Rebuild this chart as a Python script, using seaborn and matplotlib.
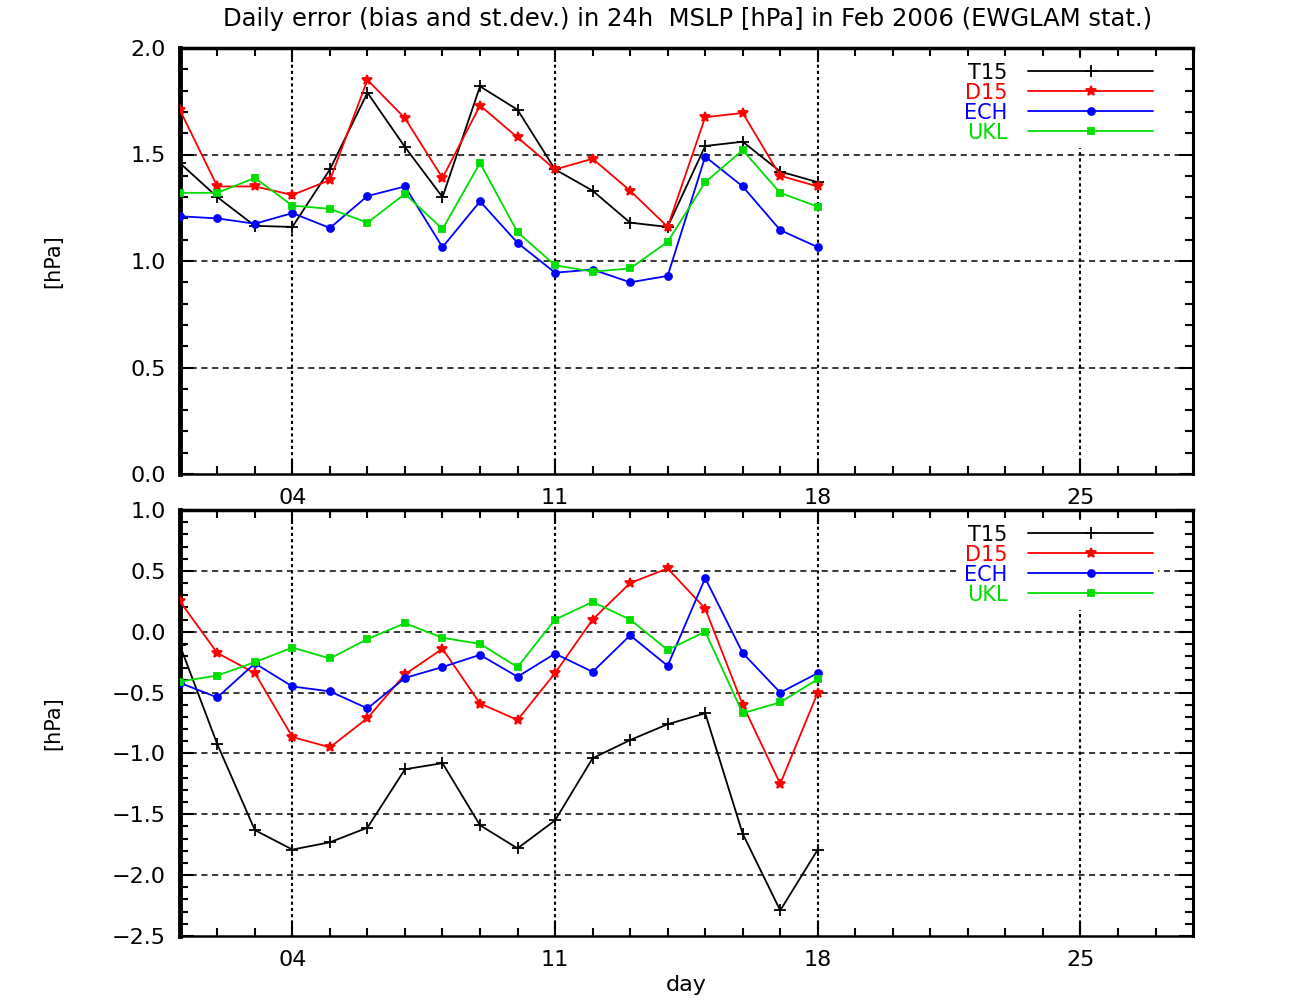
import numpy as np
import pandas as pd
import seaborn as sns
import matplotlib
matplotlib.use("Agg")
import matplotlib.pyplot as plt
from matplotlib.ticker import MultipleLocator, FixedLocator, FuncFormatter

days = list(range(1, 19))

# st.dev. (top panel)
std_t15 = [1.46, 1.30, 1.165, 1.16, 1.43, 1.79, 1.535, 1.30, 1.82, 1.71, 1.43, 1.33, 1.18, 1.16, 1.54, 1.56, 1.42, 1.37]
std_d15 = [1.71, 1.35, 1.35, 1.31, 1.38, 1.85, 1.67, 1.39, 1.73, 1.58, 1.43, 1.48, 1.33, 1.16, 1.675, 1.695, 1.40, 1.35]
std_ech = [1.21, 1.20, 1.175, 1.225, 1.155, 1.305, 1.35, 1.065, 1.28, 1.085, 0.945, 0.96, 0.90, 0.93, 1.49, 1.35, 1.145, 1.065]
std_ukl = [1.32, 1.32, 1.39, 1.26, 1.245, 1.18, 1.315, 1.15, 1.46, 1.135, 0.98, 0.95, 0.965, 1.09, 1.37, 1.52, 1.32, 1.255]

# bias (bottom panel)
bias_t15 = [-0.11, -0.925, -1.63, -1.79, -1.73, -1.61, -1.13, -1.08, -1.59, -1.78, -1.55, -1.04, -0.89, -0.76, -0.67, -1.66, -2.29, -1.79]
bias_d15 = [0.25, -0.175, -0.34, -0.865, -0.95, -0.71, -0.35, -0.14, -0.59, -0.725, -0.34, 0.10, 0.40, 0.52, 0.19, -0.60, -1.25, -0.50]
bias_ech = [-0.42, -0.54, -0.26, -0.45, -0.49, -0.63, -0.38, -0.29, -0.19, -0.37, -0.18, -0.33, -0.03, -0.28, 0.44, -0.175, -0.50, -0.34]
bias_ukl = [-0.41, -0.36, -0.25, -0.13, -0.22, -0.06, 0.07, -0.05, -0.10, -0.29, 0.10, 0.245, 0.10, -0.15, 0.00, -0.67, -0.58, -0.39]

models = ["T15", "D15", "ECH", "UKL"]
colors = {"T15": "#000000", "D15": "#ff0000", "ECH": "#0000ff", "UKL": "#00dd00"}
markers = {"T15": "+", "D15": "*", "ECH": "o", "UKL": "s"}
msizes = {"T15": 9, "D15": 7, "ECH": 5, "UKL": 5}

std_df = pd.DataFrame({"day": days * 4, "model": np.repeat(models, 18),
                       "value": std_t15 + std_d15 + std_ech + std_ukl})
bias_df = pd.DataFrame({"day": days * 4, "model": np.repeat(models, 18),
                        "value": bias_t15 + bias_d15 + bias_ech + bias_ukl})

sns.set_style("white")
plt.rcParams['font.family'] = ['DejaVu Sans']
for k in ["text.color", "axes.labelcolor", "xtick.color", "ytick.color"]:
    plt.rcParams[k] = "black"

fig = plt.figure(figsize=(13.03, 10), dpi=100)
ax1 = fig.add_axes([0.138, 0.526, 0.7776, 0.426])
ax2 = fig.add_axes([0.138, 0.064, 0.7776, 0.426])


def draw(ax, df, ylim):
    for m in models:
        d = df[df["model"] == m]
        sns.lineplot(data=d, x="day", y="value", ax=ax, color=colors[m],
                     marker=markers[m], markersize=msizes[m], linewidth=1.3,
                     markeredgecolor=colors[m], markeredgewidth=1.3,
                     label=m, zorder=3)
    ax.set_xlim(1, 28)
    ax.set_ylim(*ylim)
    ax.xaxis.set_major_locator(FixedLocator([4, 11, 18, 25]))
    ax.xaxis.set_minor_locator(MultipleLocator(1))
    ax.yaxis.set_major_locator(MultipleLocator(0.5))
    ax.yaxis.set_minor_locator(MultipleLocator(0.1))
    ax.set_xticklabels(["04", "11", "18", "25"])
    ax.yaxis.set_major_formatter(FuncFormatter(lambda v, p: f"{v:.1f}".replace("-", "\u2212")))
    ax.tick_params(which="both", direction="in", top=True, right=True,
                   bottom=True, left=True, labelsize=16, width=1.5, pad=10)
    ax.tick_params(which="major", length=10)
    ax.tick_params(which="minor", length=6)
    for v in [4, 11, 18, 25]:
        ax.axvline(v, color="black", linestyle=(0, (1.5, 1.5)), linewidth=1.5, zorder=1)
    for h in np.arange(ylim[0] + 0.5, ylim[1], 0.5):
        ax.axhline(h, color="black", linestyle=(0, (4, 3)), linewidth=1.1, zorder=1)
    for side, lw in [("left", 3.5), ("top", 2.5), ("right", 2.2), ("bottom", 1.8)]:
        ax.spines[side].set_linewidth(lw)
        ax.spines[side].set_color("black")
    ax.set_ylabel("[hPa]", fontsize=15)
    ax.yaxis.set_label_coords(-0.115, 0.5)
    ax.set_xlabel("")
    leg = ax.legend(loc="upper right", bbox_to_anchor=(0.975, 1.0), frameon=True,
                    facecolor="white", edgecolor="white", framealpha=1,
                    markerfirst=False, labelcolor="linecolor", fontsize=15,
                    handlelength=6.0, handletextpad=1.0, labelspacing=0.0,
                    borderpad=0.2, fancybox=False)
    leg.set_zorder(5)


draw(ax1, std_df, (0.0, 2.0))
draw(ax2, bias_df, (-2.5, 1.0))
ax2.set_xlabel("day", fontsize=16, labelpad=4)

fig.suptitle("Daily error (bias and st.dev.) in 24h  MSLP [hPa] in Feb 2006 (EWGLAM stat.)",
             fontsize=17.5, x=0.528, y=0.993)

fig.savefig("out.png", dpi=100)
